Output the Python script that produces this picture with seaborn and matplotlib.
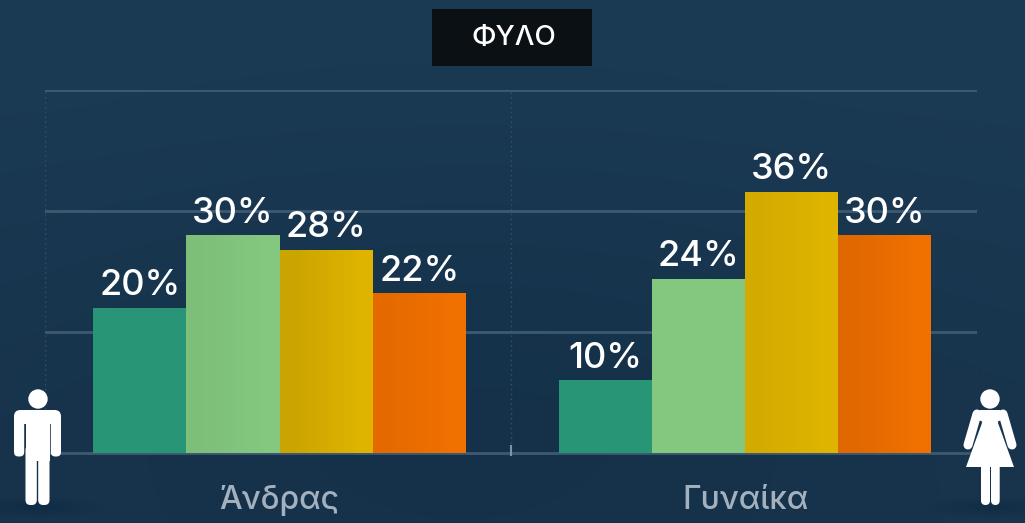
import numpy as np
import pandas as pd
import seaborn as sns
import matplotlib.pyplot as plt
from matplotlib.patches import Circle, FancyBboxPatch, Polygon, Rectangle, Ellipse

# data
categories = ['Άνδρας', 'Γυναίκα']
series_names = ['a', 'b', 'c', 'd']
values_andras = [20, 30, 28, 22]
values_gynaika = [10, 24, 36, 30]
colors = ['#289676', '#84C880', '#DEB400', '#F07000']
# shading strength on the left of each bar (same order as the patches)
shade = [0.0, 0.0, 0.05, 0.0, 0.09, 0.05, 0.05, 0.07]

df = pd.DataFrame({
    'cat': categories * 4,
    'serie': [s for s in series_names for _ in categories],
    'val': [v for pair in zip(values_andras, values_gynaika) for v in pair],
})

sns.set_theme(style='dark')
plt.rcParams['font.family'] = ['Inter', 'Noto Sans', 'DejaVu Sans']

W, H = 1025, 523
XLIM = (-0.5038, 1.4984)
fig = plt.figure(figsize=(W / 100, H / 100), dpi=100)

# background
bg = fig.add_axes([0, 0, 1, 1], zorder=0)
yy, xx = np.mgrid[0:1:200j, 0:1:400j]
dark = np.exp(-(((xx - 0.45) / 0.45) ** 2 + ((yy - 0.75) / 0.5) ** 2))
top = np.array([27, 59, 84]) / 255
bottom = np.array([25, 52, 77]) / 255
img = top + (bottom - top) * yy[..., None] - 0.015 * dark[..., None]
bg.imshow(img, extent=[0, W, H, 0], aspect='auto')
bg.axis('off')

# chart
ax = fig.add_axes([45 / W, 1 - 453 / H, 932 / W, 363 / H], zorder=1)
ax.patch.set_alpha(0)
sns.barplot(data=df, x='cat', y='val', hue='serie', palette=colors, saturation=1,
            width=0.8, gap=0, legend=False, ax=ax, zorder=3, linewidth=0)
ax.set_xlim(*XLIM)
ax.set_ylim(0, 50)
ax.set_yticks([0, 50 / 3, 100 / 3, 50])
ax.set_yticklabels([])
ax.set_xlabel('')
ax.set_ylabel('')
ax.set_xticks([XLIM[0], 0.497, XLIM[1]], minor=True)
ax.grid(True, axis='y', which='major', color='#3E5A73', lw=2, zorder=1)
ax.grid(True, axis='x', which='minor', color='#35536C', lw=1, ls=(0, (1, 2.5)), zorder=1)
ax.grid(False, axis='x', which='major')
ax.tick_params(axis='both', which='both', length=0)
ax.tick_params(axis='x', which='major', labelsize=23, labelcolor='#A3B1BF', pad=23)
for s in ax.spines.values():
    s.set_visible(False)
ax.yaxis.get_gridlines()[0].set_clip_on(False)
ax.vlines(0.497, -0.45, 1.1, color='#7F93A5', lw=1.5, clip_on=False, zorder=2)
for t in ax.get_xticklabels():
    t.set_fontweight('medium')

# value labels
for cont in ax.containers:
    ax.bar_label(cont, fmt='%g%%', color='white', fontsize=26, fontweight='medium', padding=4, zorder=5)

# left side shading on the bars
ramp = np.zeros((1, 64, 4))
ramp[..., 3] = np.clip(np.linspace(1.2, -0.2, 64), 0, 1)
for bar, k in zip(ax.patches, shade):
    if k == 0:
        continue
    x0, w, h = bar.get_x(), bar.get_width(), bar.get_height()
    ov = ramp.copy()
    ov[..., 3] *= k
    im = ax.imshow(ov, extent=[x0, x0 + w, 0, h], aspect='auto', zorder=4)
    im.set_clip_path(bar)
ax.set_xlim(*XLIM)
ax.set_ylim(0, 50)

# overlay: title box and icons, in pixels
ov = fig.add_axes([0, 0, 1, 1], zorder=2)
ov.set_xlim(0, W)
ov.set_ylim(H, 0)
ov.axis('off')
ov.add_patch(Rectangle((432, 9), 160, 56.5, fc='#0B1014', ec='none'))
ov.text(514, 37.5, 'ΦΥΛΟ', color='white', fontsize=20, fontweight='medium', ha='center', va='center')


def rnd(x0, y0, x1, y1, r=3.5):
    return FancyBboxPatch((x0 + r, y0 + r), x1 - x0 - 2 * r, y1 - y0 - 2 * r,
                          boxstyle=f'round,pad={r},rounding_size={r}', fc='white', ec='none')


for cx in (38, 990):
    for i in range(6):
        ov.add_patch(Ellipse((cx, 507), 130 - 18 * i, 20 - 3 * i, fc='black', ec='none', alpha=0.012))

# man
ov.add_patch(Circle((38, 399), 9.7, fc='white', ec='none'))
ov.add_patch(rnd(14, 410, 61, 424, r=6.5))
ov.add_patch(rnd(14, 414, 24.2, 456.5, r=4.5))
ov.add_patch(rnd(50.8, 414, 61, 456.5, r=4.5))
ov.add_patch(Rectangle((25.5, 415), 24, 46, fc='white', ec='none'))
ov.add_patch(rnd(25.5, 445, 36.8, 505, r=5))
ov.add_patch(rnd(38.2, 445, 49.5, 505, r=5))

# woman
ov.add_patch(Circle((990, 399), 9.7, fc='white', ec='none'))
ov.add_patch(Polygon([(980, 410), (1000, 410), (998, 423), (1014, 467), (966, 467), (982, 423)],
                     closed=True, fc='white', ec='none'))
ov.add_patch(rnd(977, 410, 1003, 421, r=5))
ov.plot([977, 968], [414, 445], color='white', lw=6.5, solid_capstyle='round')
ov.plot([1003, 1012], [414, 445], color='white', lw=6.5, solid_capstyle='round')
ov.add_patch(rnd(981, 455, 990, 505, r=4.5))
ov.add_patch(rnd(991, 455, 999.7, 505, r=4.5))
ov.set_xlim(0, W)
ov.set_ylim(H, 0)

fig.savefig('out.png', dpi=100)
